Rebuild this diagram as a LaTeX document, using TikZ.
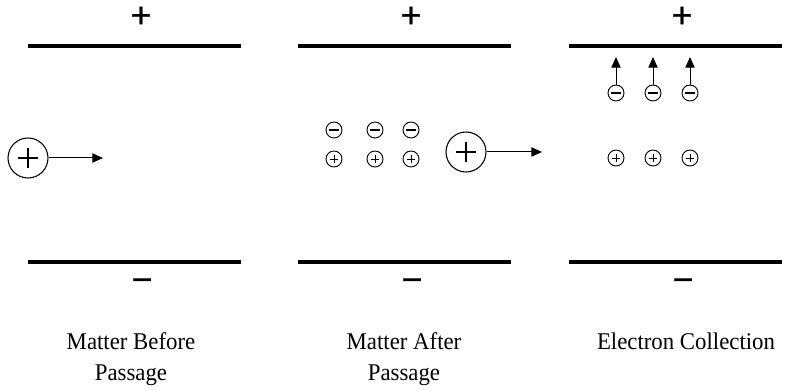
\documentclass[tikz,border=0pt]{standalone}
\usepackage{fontspec}
\setmainfont{Liberation Serif}[FakeStretch=0.95]
\newfontfamily\signfont{Liberation Sans}[FakeBold=0.4]
\usetikzlibrary{arrows.meta}
\begin{document}
\begin{tikzpicture}[x=0.75pt,y=-0.75pt,
  plate/.style={line width=2.3pt},
  sign/.style={font=\signfont\fontsize{27}{30}\selectfont,inner sep=0pt},
  lbl/.style={font=\fontsize{18}{23}\selectfont,align=center,inner sep=0pt},
  big/.style={circle,draw,line width=0.8pt,minimum size=30pt,inner sep=0pt,
    path picture={\draw[line width=1.1pt]
      ([xshift=-7.5pt]path picture bounding box.center) -- ++(15pt,0pt)
      ([yshift=-7.5pt]path picture bounding box.center) -- ++(0pt,15pt);}},
  splus/.style={circle,draw,line width=0.7pt,minimum size=12pt,inner sep=0pt,
    path picture={\draw[line width=0.7pt]
      ([xshift=-3.2pt]path picture bounding box.center) -- ++(6.4pt,0pt)
      ([yshift=-3.2pt]path picture bounding box.center) -- ++(0pt,6.4pt);}},
  sminus/.style={circle,draw,line width=0.7pt,minimum size=12pt,inner sep=0pt,
    path picture={\draw[line width=1.1pt]
      ([xshift=-3.6pt]path picture bounding box.center) -- ++(7.2pt,0pt);}},
  arr/.style={line width=0.75pt,-{Triangle[length=8pt,width=7pt]}}]
\useasboundingbox (0,0) rectangle (786,391);
% plates
\foreach \i/\x/\s in {1/28/142,2/298/412,3/569/683}{
  \coordinate (t\i a) at (\x,46);
  \coordinate (t\i b) at (\x+213,46);
  \coordinate (b\i a) at (\x,262);
  \coordinate (b\i b) at (\x+213,262);
  \draw[plate] (t\i a) -- (t\i b);
  \draw[plate] (b\i a) -- (b\i b);
  \node[sign] (p\i) at (\s-1,17) {+};
  \node[sign] (m\i) at (\s,285) {−};
}
% panel 1
\node[big] (ion1) at (28,158) {};
\coordinate (e1) at (103,158);
\draw[arr] (ion1.east) -- (e1);
% panel 2
\foreach \j/\x in {1/334,2/375,3/411}{
  \node[sminus] (n2\j) at (\x,130) {};
  \node[splus] (q2\j) at (\x,159) {};
}
\node[big] (ion2) at (466,152) {};
\coordinate (e2) at (542,152);
\draw[arr] (ion2.east) -- (e2);
% panel 3
\foreach \j/\x in {1/616,2/653,3/690}{
  \node[sminus] (n3\j) at (\x,93) {};
  \node[splus] (q3\j) at (\x,158) {};
  \coordinate (u\j) at (\x,57);
  \draw[arr] (n3\j.north) -- (u\j);
}
% labels
\node[lbl] (l1) at (131,359) {Matter Before\\Passage};
\node[lbl] (l2) at (404,359) {Matter After\\Passage};
\node[lbl,anchor=north] (l3) at (686,333) {Electron Collection};
\end{tikzpicture}
\end{document}
